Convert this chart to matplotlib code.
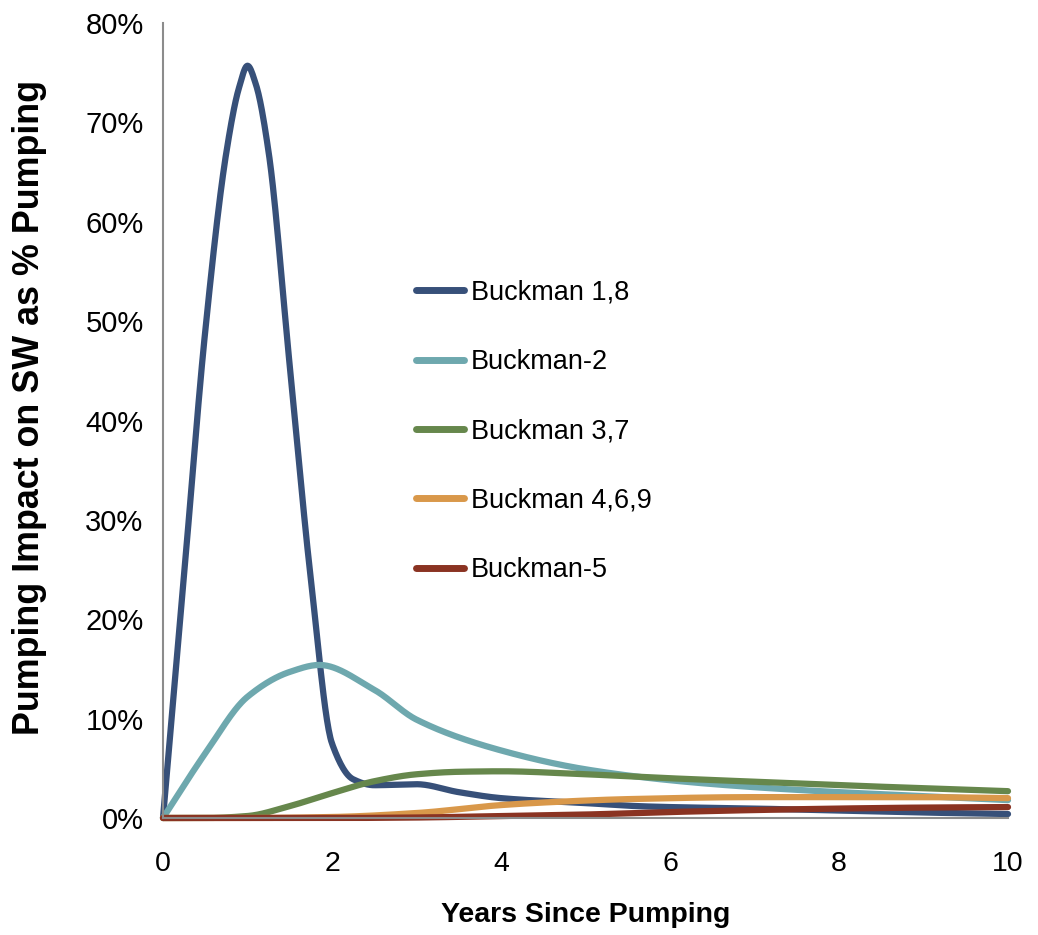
import numpy as np
import matplotlib
matplotlib.use("Agg")
import matplotlib.pyplot as plt
from matplotlib.ticker import FuncFormatter

# ---- data ----
x_b18 = [0, 0.25, 0.5, 0.75, 0.9, 1.0, 1.1, 1.25, 1.5, 1.75, 2.0, 2.25, 2.5, 3.0, 3.5, 4, 5, 5.6, 6, 7, 8, 9, 10]
y_b18 = [0, 24.5, 49, 67, 73.5, 75.7, 73.8, 67, 45.5, 24, 7.5, 3.9, 3.3, 3.4, 2.6, 2.0, 1.5, 1.2, 1.1, 0.95, 0.75, 0.55, 0.4]

x_b2 = [0, 0.5, 1, 1.5, 1.85, 2.5, 3, 4, 5, 6, 7, 8, 9, 10]
y_b2 = [0, 6.5, 12.2, 14.7, 15.4, 12.9, 9.9, 6.8, 4.9, 3.8, 3.1, 2.6, 2.2, 1.8]

x_b37 = [0, 0.5, 1, 1.5, 2, 2.5, 3, 3.5, 4, 5, 6, 7, 8, 9, 10]
y_b37 = [0, 0, 0.2, 1.2, 2.5, 3.7, 4.4, 4.65, 4.7, 4.4, 4.0, 3.65, 3.3, 3.0, 2.7]

x_b469 = [0, 1, 2, 3, 4, 4.6, 5.5, 7, 8, 9, 10]
y_b469 = [0, 0, 0.1, 0.5, 1.3, 1.6, 1.9, 2.1, 2.1, 2.1, 2.0]

x_b5 = [0, 1, 2, 3, 4, 5, 6, 7, 8, 9, 10]
y_b5 = [0, 0, 0, 0.05, 0.2, 0.35, 0.6, 0.8, 0.95, 1.05, 1.1]

labels = ["Buckman 1,8", "Buckman-2", "Buckman 3,7", "Buckman 4,6,9", "Buckman-5"]
colors = ["#375079", "#6ea8ae", "#66874c", "#d9984a", "#8a3322"]
series = [(x_b18, y_b18), (x_b2, y_b2), (x_b37, y_b37), (x_b469, y_b469), (x_b5, y_b5)]

x_ticks = [0, 2, 4, 6, 8, 10]
y_ticks = [0, 10, 20, 30, 40, 50, 60, 70, 80]


def pchip(x, y, xs):
    x = np.asarray(x, float); y = np.asarray(y, float)
    h = np.diff(x); d = np.diff(y) / h
    n = len(x); m = np.zeros(n)
    for k in range(1, n - 1):
        if d[k - 1] * d[k] > 0:
            w1 = 2 * h[k] + h[k - 1]; w2 = h[k] + 2 * h[k - 1]
            m[k] = (w1 + w2) / (w1 / d[k - 1] + w2 / d[k])
    m[0] = d[0]; m[-1] = d[-1]
    idx = np.clip(np.searchsorted(x, xs) - 1, 0, n - 2)
    t = (xs - x[idx]) / h[idx]
    h00 = 2 * t**3 - 3 * t**2 + 1; h10 = t**3 - 2 * t**2 + t
    h01 = -2 * t**3 + 3 * t**2; h11 = t**3 - t**2
    return h00 * y[idx] + h10 * h[idx] * m[idx] + h01 * y[idx + 1] + h11 * h[idx] * m[idx + 1]


NARROW = ["Liberation Sans Narrow", "Arial Narrow", "Liberation Sans", "DejaVu Sans"]
REG = ["Liberation Sans", "DejaVu Sans"]

fig = plt.figure(figsize=(10.38, 9.35), dpi=100)
ax = fig.add_axes([163 / 1038, 1 - 818 / 935, 845 / 1038, 795 / 935])

for (xs, ys), lab, c in zip(series, labels, colors):
    xd = np.linspace(0, 10, 1001)
    ax.plot(xd, pchip(xs, ys, xd), color=c, lw=4.5, label=lab,
            solid_capstyle="round", clip_on=False)

ax.set_xlim(0, 10)
ax.set_ylim(0, 80)
ax.set_xticks(x_ticks)
ax.set_yticks(y_ticks)
ax.yaxis.set_major_formatter(FuncFormatter(lambda v, p: f"{int(v)}%"))
ax.tick_params(length=0)
ax.tick_params(axis="y", pad=14)
ax.tick_params(axis="x", pad=24)
for lab in ax.get_yticklabels():
    lab.set_fontfamily(REG); lab.set_fontsize(21)
for lab in ax.get_xticklabels():
    lab.set_fontfamily(NARROW); lab.set_fontsize(20.5)

for s in ["top", "right"]:
    ax.spines[s].set_visible(False)
for s in ["left", "bottom"]:
    ax.spines[s].set_color("#8c8c8c")
    ax.spines[s].set_linewidth(1.5)

ax.set_xlabel("Years Since Pumping", fontfamily=NARROW, fontweight="bold",
              fontsize=20.5, labelpad=18)
ax.set_ylabel("Pumping Impact on SW as % Pumping", fontfamily=REG, fontweight="bold",
              fontsize=25.8)
ax.yaxis.set_label_coords(-0.137, 0.517)

leg = ax.legend(loc="center left", bbox_to_anchor=(0.299, 0.486), frameon=False,
                prop={"family": NARROW, "size": 19.5}, handlelength=1.8,
                handletextpad=0.24, labelspacing=1.6, borderpad=0, borderaxespad=0)
for l in leg.get_lines():
    l.set_solid_capstyle("round")
    l.set_linewidth(5)

fig.savefig("out.png", dpi=100, facecolor="white")
